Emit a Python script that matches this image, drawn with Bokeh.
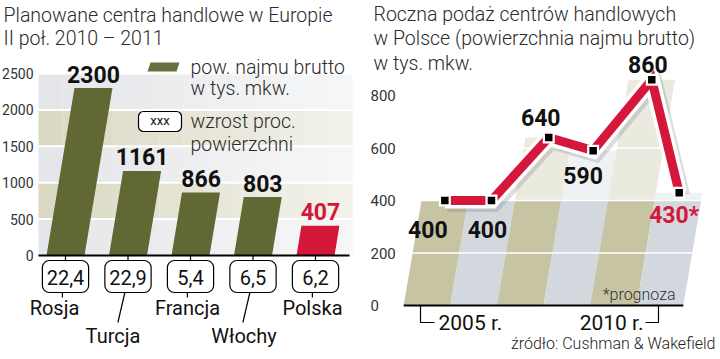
from bokeh.plotting import figure
from bokeh.layouts import row
from bokeh.models import Range1d, Label
from bokeh.core.properties import value
from bokeh.embed import file_html
from bokeh.resources import INLINE
import numpy as np

# ---------------- data: left chart ----------------
countries = ["Rosja", "Turcja", "Francja", "Włochy", "Polska"]
gla = [2300, 1161, 866, 803, 407]              # pow. najmu brutto, tys. mkw.
growth = ["22,4", "22,9", "5,4", "6,5", "6,2"]  # wzrost proc. powierzchni
left_ticks = [0, 500, 1000, 1500, 2000, 2500]

# ---------------- data: right chart ----------------
years = [2005, 2006, 2007, 2008, 2009, 2010]
supply = [400, 400, 640, 590, 860, 430]
supply_labels = ["400", "400", "640", "590", "860", "430*"]
right_ticks = [0, 200, 400, 600, 800]
year_labels = ["2005 r.", "2010 r."]

# ---------------- styles ----------------
LIGHT = "Roboto Light"
REG = "Roboto"
OLIVE = "#626834"
RED = "#d5173b"
INK = "#2b2b2b"

def base_fig(xr, yr):
    p = figure(width=360, height=359, output_backend="svg", toolbar_location=None,
               x_range=xr, y_range=yr, x_axis_location=None, y_axis_location=None,
               min_border=0)
    p.outline_line_color = None
    p.xgrid.visible = False
    p.ygrid.visible = False
    return p

def mid(baseline_px, size):
    # vertical centre of capitals for a given alphabetic baseline (screen px)
    return baseline_px - 0.35 * size

# ================= LEFT FIGURE =================
L_BASE, L_SC, L_X0, L_DX = 255.0, 0.0728, 65.0, 62.5
def lx(px): return (px - L_X0) / L_DX
def ly(py): return (L_BASE - py) / L_SC

pL = base_fig(Range1d(lx(0), lx(360)), Range1d(ly(359), ly(0)))

# tick labels
pL.text(x=[lx(33)] * len(left_ticks), y=left_ticks, text=[str(t) for t in left_ticks],
        text_align="right", text_baseline="middle", text_font=value(REG),
        text_font_size="14px", text_color="#333333")

# background bands with fade to the right
band_colors = ["#e5e6e9", "#dad9c4"]
xs_edges = np.linspace(lx(38), lx(352), 14)
for k in range(len(left_ticks) - 1):
    for j in range(len(xs_edges) - 1):
        pL.quad(left=xs_edges[j], right=xs_edges[j + 1] + 0.001,
                bottom=left_ticks[k], top=left_ticks[k + 1],
                fill_color=band_colors[k % 2], fill_alpha=1.0 - 0.65 * j / (len(xs_edges) - 2),
                line_color=None)
pL.segment(x0=[lx(38)] * 5, y0=left_ticks[1:], x1=[lx(352)] * 5, y1=left_ticks[1:],
           line_color="white", line_width=2)

# slanted bars
kL = 0.167 * L_SC / L_DX
half = 19 / L_DX
bx = [[i - half, i + half, i + half + kL * v, i - half + kL * v] for i, v in enumerate(gla)]
by = [[0, 0, v, v] for v in gla]
bar_colors = [OLIVE] * (len(gla) - 1) + [RED]
pL.patches(bx, by, fill_color=bar_colors, line_color=None)

# baseline
pL.segment(x0=[lx(38)], y0=[0], x1=[lx(349)], y1=[0], line_color="black", line_width=2)

# value labels
lab_colors = ["#111111"] * (len(gla) - 1) + [RED]
pL.text(x=[i + kL * v for i, v in enumerate(gla)], y=gla, text=[str(v) for v in gla],
        y_offset=-14, text_align="center", text_baseline="middle",
        text_font=value(REG), text_font_style="bold", text_font_size="23px",
        text_color=lab_colors)

# legend
pL.patch(x=[lx(147), lx(176), lx(179), lx(150)], y=[ly(71), ly(71), ly(62), ly(62)],
         fill_color="#6a6f3f", line_color=None)
for txt, yy in [("pow. najmu brutto", 74), ("w tys. mkw.", 95), ("wzrost proc.", 128), ("powierzchni", 151)]:
    pL.add_layout(Label(x=lx(190), y=ly(mid(yy, 19.5)), text=txt, text_font=LIGHT,
                        text_font_size="19.5px", text_color=INK, text_align="left",
                        text_baseline="middle"))
pL.quad(left=[lx(138)], right=[lx(181)], top=[ly(111)], bottom=[ly(131)], border_radius=5,
        fill_color="white", line_color="black", line_width=1.2)
pL.add_layout(Label(x=lx(159.5), y=ly(120), text="xxx", text_font=REG, text_font_size="13px",
                    text_color="#111111", text_align="center", text_baseline="middle"))

# growth boxes under the axis
idx = list(range(len(countries)))
pL.segment(x0=idx, y0=[0] * len(idx), x1=idx, y1=[ly(260)] * len(idx), line_color="black", line_width=1.2)
pL.quad(left=[i - 0.37 for i in idx], right=[i + 0.37 for i in idx],
        top=[ly(260)] * len(idx), bottom=[ly(292)] * len(idx), border_radius=7,
        fill_color="white", line_color="black", line_width=1.2)
pL.text(x=idx, y=[ly(mid(284, 20))] * len(idx), text=growth, text_align="center",
        text_baseline="middle", text_font=value(REG), text_font_size="20px", text_color="#111111")

label_row = [0, 1, 0, 1, 0]
label_dx_px = [-11, -15, -3, -9, -3]
conn_x0 = [i - 0.05 for i in idx]
conn_x1 = [i - 0.05 - (7 / L_DX if r else 0) for i, r in zip(idx, label_row)]
conn_y1 = [ly(322) if r else ly(297) for r in label_row]
pL.segment(x0=conn_x0, y0=[ly(292)] * len(idx), x1=conn_x1, y1=conn_y1, line_color="black", line_width=1.2)
pL.text(x=[i + d / L_DX for i, d in zip(idx, label_dx_px)],
        y=[ly(mid(342, 20)) if r else ly(mid(314, 20)) for r in label_row], text=countries,
        text_align="center", text_baseline="middle", text_font=value(REG),
        text_font_size="20px", text_color="#111111")

# title
for txt, yy in [("Planowane centra handlowe w Europie", 21.5), ("II poł. 2010 – 2011", 45)]:
    pL.add_layout(Label(x=lx(3), y=ly(mid(yy, 19.5)), text=txt, text_font=LIGHT,
                        text_font_size="19.5px", text_color=INK, text_align="left",
                        text_baseline="middle"))

# ================= RIGHT FIGURE =================
R_BASE, R_SC, R_X0, R_DX = 305.0, 0.2625, 426.5, 46.6
def rx(px): return (px - R_X0) / R_DX
def ry(py): return (R_BASE - py) / R_SC

pR = base_fig(Range1d(rx(360), rx(720)), Range1d(ry(359), ry(0)))

pR.text(x=[rx(370)] * len(right_ticks), y=right_ticks, text=[str(t) for t in right_ticks],
        text_align="left", text_baseline="middle", text_font=value(REG),
        text_font_size="15px", text_color="#333333")

kR = 0.17 * R_SC / R_DX
PLATEAU = 400
col_colors = ["#c6c4a3", "#d2d8de"]
n = len(years)
cc = [col_colors[i % 2] for i in range(n)]
lo = [min(v, PLATEAU) for v in supply]
pR.patches([[i - 0.5, i + 0.5, i + 0.5 + kR * h, i - 0.5 + kR * h] for i, h in enumerate(lo)],
           [[0, 0, h, h] for h in lo], fill_color=cc, line_color=None)
up = [(i, v) for i, v in enumerate(supply) if v > PLATEAU]
pR.patches([[i - 0.5 + kR * PLATEAU, i + 0.5 + kR * PLATEAU, i + 0.5 + kR * v, i - 0.5 + kR * v] for i, v in up],
           [[PLATEAU, PLATEAU, v, v] for i, v in up],
           fill_color=[cc[i] for i, v in up], fill_alpha=0.35, line_color=None)
pR.segment(x0=[-0.6] * 3, y0=right_ticks[1:-1], x1=[n - 0.1] * 3, y1=right_ticks[1:-1],
           line_color="white", line_width=1.5)

# baseline + brackets
pR.segment(x0=[-0.5], y0=[0], x1=[n - 0.5], y1=[0], line_color="black", line_width=2)
pR.multi_line(xs=[[rx(420), rx(420), rx(434)], [rx(658), rx(658), rx(645)]],
              ys=[[0, ry(322), ry(322)], [0, ry(322), ry(322)]], line_color="black", line_width=1.2)
pR.add_layout(Label(x=rx(438), y=ry(mid(330, 21)), text=year_labels[0], text_font=REG,
                    text_font_size="21px", text_color="#111111", text_align="left",
                    text_baseline="middle"))
pR.add_layout(Label(x=rx(643), y=ry(mid(330, 21)), text=year_labels[1], text_font=REG,
                    text_font_size="21px", text_color="#111111", text_align="right",
                    text_baseline="middle"))

# line with white outline and soft shadow
px_pts = [i + kR * v for i, v in enumerate(supply)]
sh_dx, sh_dy = 2.5 / R_DX, -3.0 / R_SC
pR.line([x + sh_dx for x in px_pts], [v + sh_dy for v in supply], line_color="#777777",
        line_alpha=0.25, line_width=17, line_join="miter")
pR.line(px_pts, supply, line_color="white", line_width=16, line_join="miter")
pR.line(px_pts, supply, line_color=RED, line_width=9, line_join="miter")
pR.scatter(px_pts, supply, marker="square", size=12, fill_color="white", line_color=None)
pR.scatter(px_pts, supply, marker="square", size=7.5, fill_color="black", line_color=None)

lab_dx = [-17, -4, -8, -10, -4, -5]
lab_dy = [37, 37, -12, 33, -7, 31]
pR.text(x=px_pts, y=supply, text=supply_labels, x_offset=lab_dx,
        y_offset=[d - 0.35 * 23 for d in lab_dy],
        text_align="center", text_baseline="middle", text_font=value(REG),
        text_font_style="bold", text_font_size="23px",
        text_color=["#111111"] * (n - 1) + [RED])

pR.add_layout(Label(x=rx(675), y=ry(mid(300, 16)), text="*prognoza", text_font=LIGHT,
                    text_font_size="16px", text_color="#333333", text_align="right",
                    text_baseline="middle"))
pR.add_layout(Label(x=rx(715), y=ry(mid(349, 16)), text="źródło: Cushman & Wakefield",
                    text_font=LIGHT, text_font_size="16px", text_color="#222222",
                    text_align="right", text_baseline="middle"))
for txt, yy in [("Roczna podaż centrów handlowych", 20.5), ("w Polsce (powierzchnia najmu brutto)", 45),
                ("w tys. mkw.", 70)]:
    pR.add_layout(Label(x=rx(373), y=ry(mid(yy, 19.5)), text=txt, text_font=LIGHT,
                        text_font_size="19.5px", text_color=INK, text_align="left",
                        text_baseline="middle"))

layout = row(pL, pR)
open("out.html", "w").write(file_html(layout, INLINE))
